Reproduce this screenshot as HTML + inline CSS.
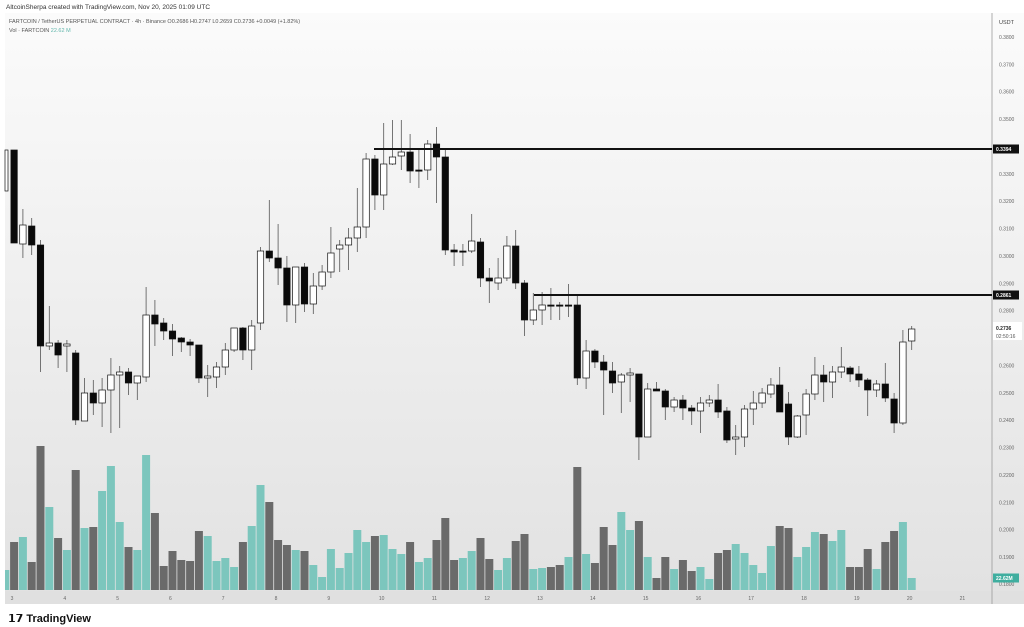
<!DOCTYPE html>
<html><head><meta charset="utf-8"><style>
html,body{margin:0;padding:0;background:#fff;width:1024px;height:627px;overflow:hidden;font-family:"Liberation Sans",sans-serif}
</style></head><body>
<svg id="s" width="1024" height="627" xmlns="http://www.w3.org/2000/svg" font-family="Liberation Sans, sans-serif">
<defs><linearGradient id="g" x1="0" y1="0" x2="0" y2="1"><stop offset="0" stop-color="#fbfbfb"/><stop offset="1" stop-color="#e2e2e2"/></linearGradient></defs>
<rect x="0" y="0" width="1024" height="627" fill="#fff"/>
<rect x="5" y="13" width="1019" height="578" fill="url(#g)"/>
<rect x="5" y="591" width="1019" height="13" fill="#e0e0e0"/>
<line x1="992" y1="13" x2="992" y2="604" stroke="#9a9a9a" stroke-width="0.8"/>
<text x="6" y="9" font-size="6.5" fill="#333">AltcoinSherpa created with TradingView.com, Nov 20, 2025 01:09 UTC</text>
<text x="9" y="23" font-size="5.5" fill="#555">FARTCOIN / TetherUS PERPETUAL CONTRACT · 4h · Binance  O0.2686  H0.2747  L0.2659  C0.2736  +0.0049 (+1.82%)</text>
<text x="9" y="32" font-size="5.5" fill="#555">Vol · FARTCOIN <tspan fill="#5fb5aa">22.62 M</tspan></text>
<g id="vol"></g><g id="cs"></g><g id="ax"></g>
<line x1="374" y1="149" x2="992" y2="149" stroke="#111" stroke-width="2"/>
<line x1="534" y1="295" x2="992" y2="295" stroke="#111" stroke-width="2"/>
<text x="8" y="622" font-size="11" font-weight="bold" fill="#111">𝟭𝟳 TradingView</text>
</svg>
<script>
var C=[[150,191,150,191,'w'],[150,243,150,243,'b'],[225,244,209,258,'w'],[226,245,218,255,'b'],[245,346,240,372,'b'],[343,346,306,350,'w'],[343,355,340,368,'b'],[344,346,340,372,'w'],[353,420,350,425,'b'],[393,421,378,421,'w'],[393,403,380,415,'b'],[390,403,378,427,'w'],[375,390,358,433,'w'],[372,375,366,428,'w'],[372,383,368,395,'b'],[376,383,376,400,'w'],[315,377,287,382,'w'],[315,324,300,346,'b'],[323,331,318,340,'b'],[331,339,324,356,'b'],[338,342,337,352,'b'],[342,345,339,356,'b'],[345,378,345,383,'b'],[376,378,365,397,'w'],[367,377,362,388,'w'],[350,367,343,375,'w'],[328,350,328,352,'w'],[328,350,327,360,'b'],[326,350,320,370,'w'],[251,323,247,330,'w'],[251,258,200,262,'b'],[258,268,224,285,'b'],[268,305,256,322,'b'],[267,305,267,323,'w'],[267,304,263,312,'b'],[286,304,273,314,'w'],[272,286,265,290,'w'],[253,272,227,278,'w'],[245,249,240,272,'w'],[238,245,228,270,'w'],[227,238,188,252,'w'],[159,227,153,238,'w'],[159,195,155,210,'b'],[164,195,123,210,'w'],[157,164,120,165,'w'],[152,156,120,170,'w'],[152,171,134,183,'b'],[170,171,150,188,'b'],[144,170,140,180,'w'],[144,157,127,203,'b'],[157,250,148,255,'b'],[250,252,244,266,'b'],[251,252,244,266,'b'],[241,251,214,253,'w'],[242,278,238,287,'b'],[278,281,268,303,'b'],[278,283,258,290,'w'],[246,278,236,281,'w'],[246,283,230,289,'b'],[283,320,280,336,'b'],[310,320,293,325,'w'],[305,310,292,325,'w'],[305,306,288,320,'b'],[305,306,302,320,'b'],[305,306,284,317,'b'],[305,378,294,385,'b'],[351,378,340,389,'w'],[351,362,349,368,'b'],[362,370,355,415,'b'],[371,383,362,393,'b'],[375,382,373,413,'w'],[373,375,368,402,'w'],[374,437,374,460,'b'],[389,437,383,437,'w'],[389,391,382,391,'b'],[391,407,389,420,'b'],[400,407,397,412,'w'],[400,408,395,420,'b'],[408,411,405,425,'b'],[403,411,397,433,'w'],[400,403,395,407,'w'],[400,412,384,418,'b'],[411,440,407,443,'b'],[437,439,425,455,'w'],[409,437,405,447,'w'],[403,409,391,425,'w'],[393,403,388,408,'w'],[385,394,378,398,'w'],[385,412,367,412,'b'],[404,437,392,445,'b'],[416,437,415,438,'w'],[394,415,389,435,'w'],[375,394,357,400,'w'],[375,382,365,402,'b'],[372,382,366,398,'w'],[367,372,347,378,'w'],[368,374,366,382,'b'],[374,380,366,387,'b'],[380,390,378,416,'b'],[384,390,380,397,'w'],[384,398,363,402,'b'],[399,423,393,433,'b'],[342,423,330,425,'w'],[329,341,326,350,'w']];
var V=[[570,1],[542,0],[537,1],[562,0],[446,0],[507,1],[538,0],[550,1],[470,0],[528,1],[527,0],[491,1],[466,1],[522,1],[547,0],[550,1],[455,1],[513,0],[566,0],[551,0],[560,0],[561,0],[531,0],[536,1],[561,1],[558,1],[567,1],[542,0],[526,1],[485,1],[502,0],[540,0],[545,0],[550,1],[551,0],[565,1],[577,1],[549,1],[568,1],[553,1],[530,1],[542,1],[536,0],[535,1],[549,1],[554,1],[542,0],[562,1],[558,1],[540,0],[518,0],[560,0],[558,1],[551,1],[538,0],[559,0],[570,1],[558,1],[541,0],[534,0],[569,1],[568,1],[567,0],[565,0],[557,1],[467,0],[554,1],[563,0],[527,0],[545,0],[512,1],[530,1],[521,0],[557,1],[578,0],[557,0],[569,1],[560,0],[571,0],[567,1],[579,1],[553,0],[550,0],[544,1],[553,1],[565,1],[573,1],[546,1],[526,0],[528,0],[557,1],[547,1],[532,1],[534,0],[541,1],[530,1],[567,0],[567,0],[549,0],[569,1],[542,0],[531,0],[522,1],[578,1]];
var NS='http://www.w3.org/2000/svg';
function el(p,t,a){var e=document.createElementNS(NS,t);for(var k in a)e.setAttribute(k,a[k]);p.appendChild(e);return e;}
var vg=document.getElementById('vol'),cg=document.getElementById('cs'),ag=document.getElementById('ax');
function X(i){return 5.3+i*8.8;}
V.forEach(function(v,i){var x=X(i);el(vg,'rect',{x:Math.max(5,x-4),y:v[0],width:x-4<5?x+4-5:8,height:590-v[0],fill:v[1]?'#7cc6bd':'#6a6a6a'});});
C.forEach(function(c,i){var x=X(i);if(i==0)x=6.5;
el(cg,'line',{x1:x,y1:c[2],x2:x,y2:c[3],stroke:'#555','stroke-width':0.8});
var h=Math.max(1.2,c[1]-c[0]);
el(cg,'rect',{x:i==0?5:x-3.2,y:c[0],width:i==0?3:6.4,height:h,fill:c[4]=='b'?'#0a0a0a':'#fff',stroke:'#111','stroke-width':0.7});});
var ticks=[0.38,0.37,0.36,0.35,0.33,0.32,0.31,0.30,0.29,0.28,0.26,0.25,0.24,0.23,0.22,0.21,0.20,0.19];
el(ag,'text',{x:999,y:24,'font-size':5.5,fill:'#444'}).textContent='USDT';
ticks.forEach(function(p){var y=37+(0.38-p)*2737;el(ag,'text',{x:999,y:y+2,'font-size':5,fill:'#666'}).textContent=p.toFixed(4);});
el(ag,'text',{x:999,y:586,'font-size':5,fill:'#666'}).textContent='0.1800';
function lab(y,bg,t,fg){el(ag,'rect',{x:993,y:y-4.5,width:26,height:9,fill:bg});el(ag,'text',{x:996,y:y+2,'font-size':5,fill:fg,'font-weight':'bold'}).textContent=t;}
lab(149,'#111','0.3394','#fff');lab(295,'#111','0.2861','#fff');lab(578,'#3fae9f','22.62M','#fff');
el(ag,'rect',{x:993,y:322,width:29,height:18,fill:'#fff'});
el(ag,'text',{x:996,y:330,'font-size':5,fill:'#222','font-weight':'bold'}).textContent='0.2736';
el(ag,'text',{x:996,y:338,'font-size':5,fill:'#555'}).textContent='02:50:16';
var days=['3','4','5','6','7','8','9','10','11','12','13','14','15','16','17','18','19','20','21'];
days.forEach(function(d,i){el(ag,'text',{x:12+i*52.8,y:600,'font-size':5,fill:'#666','text-anchor':'middle'}).textContent=d;});
</script>
</body></html>
